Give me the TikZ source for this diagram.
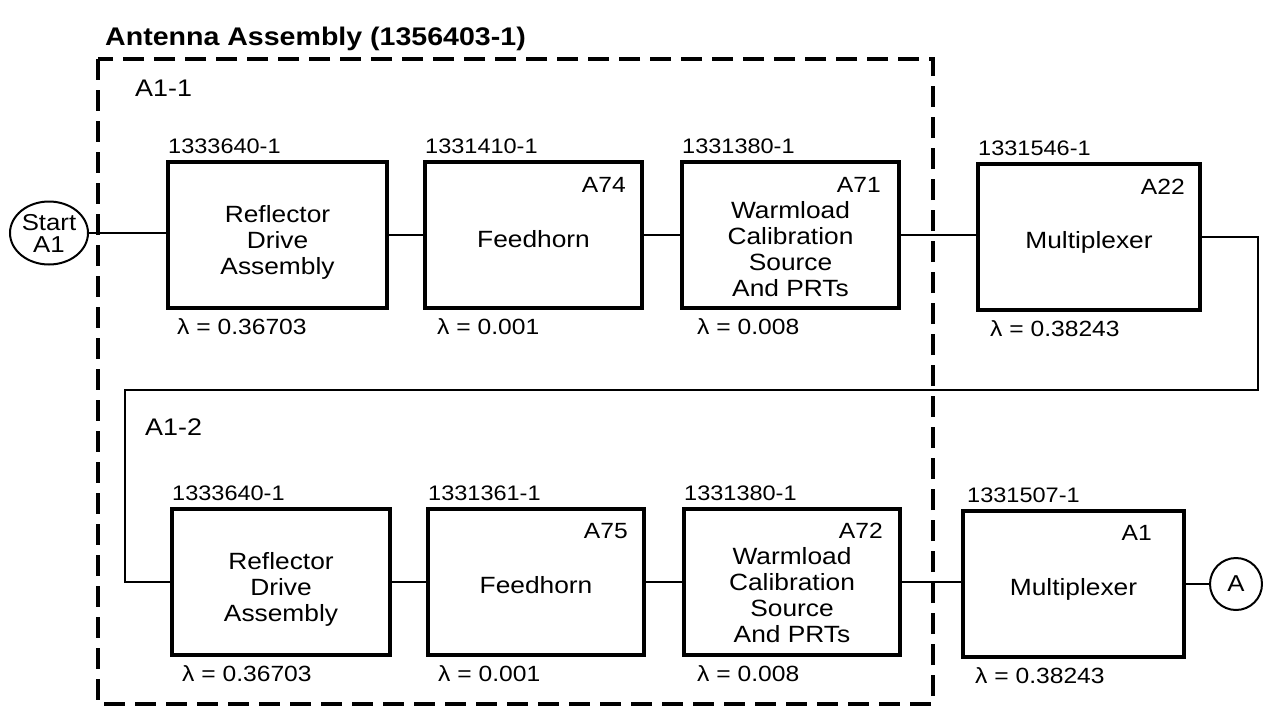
\documentclass[tikz,border=0pt]{standalone}
\usepackage{fontspec}
\setmainfont{Liberation Sans}[FakeStretch=1.12]
\usetikzlibrary{shapes.geometric,calc}
\tikzset{
  blk/.style={draw, line width=3.5pt, rectangle, minimum height=146pt, inner sep=0pt, outer sep=0pt},
  wire/.style={line width=2pt},
  main/.style={font=\fontsize{23.5}{26}\selectfont, align=center, inner sep=0pt},
  pn/.style={font=\fontsize{21}{24}\selectfont, inner sep=0pt, anchor=base west},
  refd/.style={font=\fontsize{22}{24}\selectfont, inner sep=0pt, anchor=base east},
  lam/.style={font=\fontsize{22}{24}\selectfont, inner sep=0pt, anchor=base west},
  grp/.style={font=\fontsize{24}{26}\selectfont, inner sep=0pt, anchor=base west},
  ttl/.style={font=\fontsize{25.5}{30}\selectfont\bfseries, inner sep=0pt, anchor=base west},
  dashbox/.style={line width=4pt, dash pattern=on 21pt off 10pt},
  term/.style={draw, line width=2pt, inner sep=0pt, font=\fontsize{23}{25}\selectfont, align=center}
}
\begin{document}
\begin{tikzpicture}[x=1pt,y=-1pt]
\useasboundingbox (0,0) rectangle (1263,715);
% title and dashed assembly
\node[ttl] (title) at (105,45) {Antenna Assembly (1356403-1)};
\draw[dashbox] (98,59) rectangle (933,704);
\node[grp] (g1) at (135,96) {A1-1};
\node[grp] (g2) at (145,435) {A1-2};
% row 1 boxes
\node[blk, minimum width=219pt] (b1) at (277.5,235) {};
\node[blk, minimum width=217pt] (b2) at (533.5,235) {};
\node[blk, minimum width=217pt] (b3) at (790.5,235) {};
\node[blk, minimum width=222pt] (b4) at (1089,237) {};
% row 2 boxes
\node[blk, minimum width=218pt] (b5) at (281,582) {};
\node[blk, minimum width=216pt] (b6) at (536,582) {};
\node[blk, minimum width=216pt] (b7) at (792,582) {};
\node[blk, minimum width=221pt] (b8) at (1073.5,584) {};
% main texts
\node[main] (t1) at ([yshift=-7.5pt]b1.center) {Reflector\\Drive\\Assembly};
\node[main] (t2) at ([yshift=-4pt]b2.center) {Feedhorn};
\node[main] (t3) at ([yshift=-14pt]b3.center) {Warmload\\Calibration\\Source\\And PRTs};
\node[main] (t4) at ([yshift=-5pt]b4.center) {Multiplexer};
\node[main] (t5) at ([yshift=-7.5pt]b5.center) {Reflector\\Drive\\Assembly};
\node[main] (t6) at ([yshift=-3pt]b6.center) {Feedhorn};
\node[main] (t7) at ([yshift=-13pt]b7.center) {Warmload\\Calibration\\Source\\And PRTs};
\node[main] (t8) at ([yshift=-5pt]b8.center) {Multiplexer};
% part numbers
\node[pn] (p1) at ([yshift=9pt]b1.north west) {1333640-1};
\node[pn] (p2) at ([yshift=9pt]b2.north west) {1331410-1};
\node[pn] (p3) at ([yshift=9pt]b3.north west) {1331380-1};
\node[pn] (p4) at ([yshift=9pt]b4.north west) {1331546-1};
\node[pn] (p5) at ([yshift=9pt]b5.north west) {1333640-1};
\node[pn] (p6) at ([yshift=9pt]b6.north west) {1331361-1};
\node[pn] (p7) at ([yshift=9pt]b7.north west) {1331380-1};
\node[pn] (p8) at ([xshift=4pt,yshift=9pt]b8.north west) {1331507-1};
% reference designators
\node[refd] (r2) at ([xshift=-16pt,yshift=-30pt]b2.north east) {A74};
\node[refd] (r3) at ([xshift=-18pt,yshift=-30pt]b3.north east) {A71};
\node[refd] (r4) at ([xshift=-15pt,yshift=-30pt]b4.north east) {A22};
\node[refd] (r6) at ([xshift=-16pt,yshift=-29pt]b6.north east) {A75};
\node[refd] (r7) at ([xshift=-17pt,yshift=-29pt]b7.north east) {A72};
\node[refd] (r8) at ([xshift=-32pt,yshift=-29pt]b8.north east) {A1};
% failure rates
\node[lam] (l1) at ([xshift=9pt,yshift=-26pt]b1.south west) {λ = 0.36703};
\node[lam] (l2) at ([xshift=12pt,yshift=-26pt]b2.south west) {λ = 0.001};
\node[lam] (l3) at ([xshift=15pt,yshift=-26pt]b3.south west) {λ = 0.008};
\node[lam] (l4) at ([xshift=12pt,yshift=-26pt]b4.south west) {λ = 0.38243};
\node[lam] (l5) at ([xshift=10pt,yshift=-26pt]b5.south west) {λ = 0.36703};
\node[lam] (l6) at ([xshift=10pt,yshift=-26pt]b6.south west) {λ = 0.001};
\node[lam] (l7) at ([xshift=13pt,yshift=-26pt]b7.south west) {λ = 0.008};
\node[lam] (l8) at ([xshift=12pt,yshift=-26pt]b8.south west) {λ = 0.38243};
% terminals
\node[term, ellipse, minimum width=78pt, minimum height=63pt] (start) at (49,233) {Start\\[-3pt]A1};
\node[term, circle, minimum size=52pt] (endA) at (1236,584) {A};
% connectors
\draw[wire] (start.east) -- (start.east -| b1.west);
\draw[wire] (b1.east) -- (b1.east -| b2.west);
\draw[wire] (b2.east) -- (b2.east -| b3.west);
\draw[wire] (b3.east) -- (b3.east -| b4.west);
\coordinate (lr) at (1258,390);
\coordinate (ll) at (125,390);
\draw[wire] (b4.east) -| (lr) -- (ll) |- (b5.west);
\draw[wire] (b5.east) -- (b5.east -| b6.west);
\draw[wire] (b6.east) -- (b6.east -| b7.west);
\draw[wire] (b7.east) -- (b7.east -| b8.west);
\draw[wire] (b8.east) -- (endA.west);
\end{tikzpicture}
\end{document}
